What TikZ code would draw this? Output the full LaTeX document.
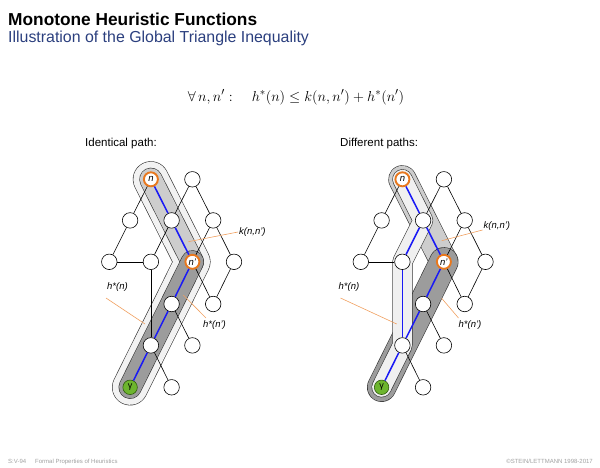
\documentclass[tikz,border=0pt]{standalone}
\usepackage{fontspec}
\setmainfont{Liberation Sans}
\pgfdeclarelayer{bg}
\pgfsetlayers{bg,main}
\definecolor{subblue}{HTML}{2B3F7E}
\definecolor{nodeorange}{HTML}{E8781E}
\definecolor{leaderorange}{HTML}{F0A060}
\definecolor{gammagreen}{HTML}{6DB52E}
\definecolor{gammadark}{HTML}{2F5A0E}
\definecolor{pathblue}{HTML}{1A1AF5}
\definecolor{envgray}{HTML}{F2F2F2}
\definecolor{kgray}{HTML}{CDCDCD}
\definecolor{darkgray}{HTML}{9C9C9C}
\definecolor{lightgray}{HTML}{F0F0F0}
\definecolor{outlinegray}{HTML}{333333}
\definecolor{footgray}{HTML}{A0A0A0}
\tikzset{
  vtx/.style={circle, draw=black, fill=white, line width=0.6pt, minimum size=15.5pt, inner sep=0pt},
  nnode/.style={vtx, draw=nodeorange, line width=1.9pt, minimum size=14pt, font=\itshape\fontsize{9.5}{9.5}\selectfont},
  gnode/.style={vtx, fill=gammagreen, draw=gammadark, minimum size=14.5pt, font=\fontsize{9}{9}\selectfont},
  edgeline/.style={line width=0.6pt, draw=black},
  bluepath/.style={draw=pathblue, line width=1.5pt},
  leader/.style={draw=leaderorange, line width=0.6pt},
  lbl/.style={font=\itshape\fontsize{9.5}{10}\selectfont, inner sep=1pt},
  sausage/.style={draw=outlinegray, line width=0.6pt, double=#1, line cap=round, line join=round},
  heading/.style={anchor=base west, font=\fontsize{11.5}{13}\selectfont, inner sep=0pt},
  foot/.style={font=\fontsize{6}{7}\selectfont, text=footgray, inner sep=0pt}
}
\newcommand\mygraph{%
  \node[nnode] (a) at (150.9,179.3) {n};
  \node[vtx] (b) at (192.4,179.3) {};
  \node[vtx] (c) at (130.1,220.4) {};
  \node[vtx] (d) at (171.6,220.4) {};
  \node[vtx] (e) at (213.2,220.4) {};
  \node[vtx] (f) at (109.3,261.8) {};
  \node[vtx] (g) at (150.9,261.8) {};
  \node[nnode] (h) at (192.4,261.8) {n'};
  \node[vtx] (i) at (234.0,261.8) {};
  \node[vtx] (j) at (171.6,304.0) {};
  \node[vtx] (k) at (213.2,304.0) {};
  \node[vtx] (l) at (150.9,345.4) {};
  \node[vtx] (m) at (192.4,345.4) {};
  \node[gnode] (o) at (130.1,387.3) {γ};
  \node[vtx] (p) at (171.6,387.3) {};
  \draw[edgeline] (a) -- (c);
  \draw[edgeline] (b) -- (d);
  \draw[edgeline] (b) -- (e);
  \draw[edgeline] (c) -- (f);
  \draw[edgeline] (e) -- (h);
  \draw[edgeline] (e) -- (i);
  \draw[edgeline] (f) -- (g);
  \draw[edgeline] (h) -- (k);
  \draw[edgeline] (i) -- (k);
  \draw[edgeline] (j) -- (m);
  \draw[edgeline] (l) -- (p);
}
\begin{document}
\begin{tikzpicture}[x=1pt,y=-1pt]
\useasboundingbox (0,0) rectangle (600,467);
% header
\node[anchor=base west, inner sep=0pt, font=\bfseries\fontsize{17.3}{20}\selectfont] (title) at (8,25) {Monotone Heuristic Functions};
\node[anchor=base west, inner sep=0pt, text=subblue, font=\fontsize{15.9}{17}\selectfont] (subtitle) at (8,42) {Illustration of the Global Triangle Inequality};
\node[anchor=base, inner sep=0pt, font=\fontsize{15}{18}\selectfont] (formula) at (296,101) {$\forall\, n,n' :\quad h^*(n)\le k(n,n')+h^*(n')$};
\node[heading] (head1) at (85,146.7) {Identical path:};
\node[heading] (head2) at (340,146.7) {Different paths:};
% left graph
\begin{scope}[name prefix=L-]
  \mygraph
  \draw[edgeline] (d) -- (g);
  \draw[edgeline] (g) -- (l);
  \draw[bluepath] (a) -- (d);
  \draw[bluepath] (d) -- (h);
  \draw[bluepath] (h) -- (j);
  \draw[bluepath] (j) -- (l);
  \draw[bluepath] (l) -- (o);
  \begin{pgfonlayer}{bg}
    \draw[sausage=envgray, double distance=35pt] (a.center) -- (d.center) -- (h.center) -- (j.center) -- (l.center) -- (o.center);
    \draw[sausage=kgray, double distance=22pt] (a.center) -- (d.center) -- (h.center);
    \draw[sausage=darkgray, double distance=22pt] (h.center) -- (j.center) -- (l.center) -- (o.center);
  \end{pgfonlayer}
  \node[lbl, anchor=west] (kl) at (238,232) {k(n,n')};
  \coordinate (kp) at (188.3,241.7);
  \draw[leader] (kl.west) -- (kp);
  \node[lbl, anchor=south west] (hl) at (106,293) {h*(n)};
  \coordinate (hp) at (145,324);
  \draw[leader] ([yshift=-5pt]hl.south west) -- (hp);
  \node[lbl, anchor=north west] (hpl) at (202,319) {h*(n')};
  \coordinate (hpp) at (183.3,295);
  \draw[leader] ([xshift=4pt,yshift=1pt]hpl.north west) -- (hpp);
\end{scope}
% right graph
\begin{scope}[name prefix=R-, xshift=251.5pt]
  \mygraph
  \draw[bluepath] (a) -- (d);
  \draw[bluepath] (d) -- (g);
  \draw[bluepath] (g) -- (l);
  \draw[bluepath] (d) -- (h);
  \draw[bluepath] (h) -- (j);
  \draw[bluepath] (j) -- (l);
  \draw[bluepath] (l) -- (o);
  \begin{pgfonlayer}{bg}
    \draw[sausage=kgray, double distance=27pt] (a.center) -- (d.center) -- (h.center);
    \draw[sausage=darkgray, double distance=28pt] (h.center) -- (j.center) -- (l.center) -- (o.center);
    \draw[sausage=lightgray, double distance=19pt] (a.center) -- (d.center) -- (g.center) -- (l.center) -- (o.center);
  \end{pgfonlayer}
  \node[lbl, anchor=west] (kl) at (231,226) {k(n,n')};
  \coordinate (kp) at (190.2,240.7);
  \draw[leader] ([yshift=-4pt]kl.west) -- (kp);
  \node[lbl, anchor=south west] (hl) at (86,293) {h*(n)};
  \coordinate (hp) at (145.2,324);
  \draw[leader] ([xshift=3pt,yshift=-5pt]hl.south west) -- (hp);
  \node[lbl, anchor=north west] (hpl) at (206,319) {h*(n')};
  \coordinate (hpp) at (190.2,298.3);
  \draw[leader] ([xshift=1pt,yshift=1pt]hpl.north west) -- (hpp);
\end{scope}
% footer
\node[foot, anchor=base west] (f1) at (8,463) {S:V-94\hspace{9pt}Formal Properties of Heuristics};
\node[foot, anchor=base east] (f2) at (593,463) {©STEIN/LETTMANN 1998-2017};
\end{tikzpicture}
\end{document}
